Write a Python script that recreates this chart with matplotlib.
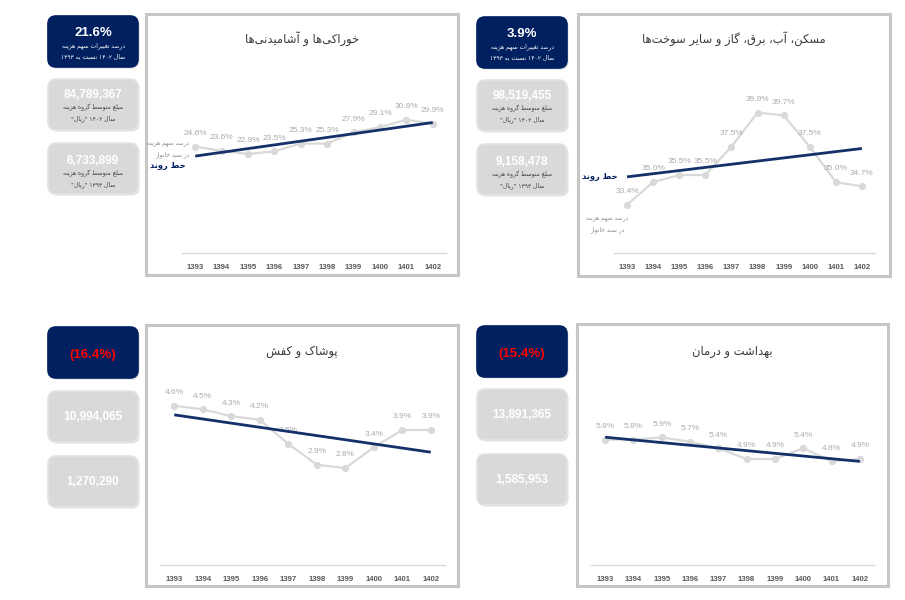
import re
import numpy as np
import matplotlib
matplotlib.use('Agg')
import matplotlib.pyplot as plt
from matplotlib.patches import FancyBboxPatch, Rectangle

plt.rcParams['font.family'] = ['Liberation Sans', 'DejaVu Sans']

# ---- data ----
years = ['1393', '1394', '1395', '1396', '1397', '1398', '1399', '1400', '1401', '1402']

food_share = [24.6, 23.6, 22.9, 23.5, 25.3, 25.3, 27.9, 29.1, 30.8, 29.9]
housing_share = [33.4, 35.0, 35.5, 35.5, 37.5, 39.9, 39.7, 37.5, 35.0, 34.7]
clothing_share = [4.6, 4.5, 4.3, 4.2, 3.5, 2.9, 2.8, 3.4, 3.9, 3.9]
health_share = [5.8, 5.8, 5.9, 5.7, 5.4, 4.9, 4.9, 5.4, 4.8, 4.9]

titles = ['خوراکی\u200cها و آشامیدنی\u200cها',
          'مسکن، آب، برق، گاز و سایر سوخت\u200cها',
          'پوشاک و کفش',
          'بهداشت و درمان']
share_change = ['21.6%', '3.9%', '(16.4%)', '(15.4%)']
amount_1402 = ['84,789,367', '98,519,455', '10,994,065', '13,891,365']
amount_1393 = ['6,733,899', '9,158,478', '1,270,290', '1,585,953']

change_note = 'درصد تغییرات سهم هزینه\nسال ۱۴۰۲ نسبت به ۱۳۹۳'
amount_note_1402 = 'مبلغ متوسط گروه هزینه\nسال ۱۴۰۲ "ریال"'
amount_note_1393 = 'مبلغ متوسط گروه هزینه\nسال ۱۳۹۳ "ریال"'
series_note = 'درصد سهم هزینه\nدر سبد خانوار'
trend_note = 'خط روند'

# ---- minimal Persian shaping (matplotlib has no bidi / joining) ----
DUAL = {'ب': 0xFE8F, 'ت': 0xFE95, 'ث': 0xFE99, 'ج': 0xFE9D, 'ح': 0xFEA1,
        'خ': 0xFEA5, 'س': 0xFEB1, 'ش': 0xFEB5, 'ص': 0xFEB9, 'ض': 0xFEBD,
        'ط': 0xFEC1, 'ظ': 0xFEC5, 'ع': 0xFEC9, 'غ': 0xFECD, 'ف': 0xFED1,
        'ق': 0xFED5, 'ل': 0xFEDD, 'م': 0xFEE1, 'ن': 0xFEE5, 'ه': 0xFEE9,
        'ی': 0xFBFC, 'ک': 0xFB8E, 'گ': 0xFB92, 'پ': 0xFB56, 'چ': 0xFB7A}
RIGHT = {'ا': 0xFE8D, 'آ': 0xFE81, 'د': 0xFEA9, 'ذ': 0xFEAB, 'ر': 0xFEAD,
         'ز': 0xFEAF, 'و': 0xFEED, 'ژ': 0xFB8A}
JOIN = {**{k: (v, True) for k, v in DUAL.items()},
        **{k: (v, False) for k, v in RIGHT.items()}}


def fa_line(s):
    out = []
    for i, c in enumerate(s):
        if c not in JOIN:
            out.append(c)
            continue
        prev = s[i - 1] if i > 0 else ''
        nxt = s[i + 1] if i + 1 < len(s) else ''
        base, dual = JOIN[c]
        a = prev in JOIN and JOIN[prev][1]
        b = dual and nxt in JOIN
        k = 3 if (a and b) else 1 if a else 2 if b else 0
        out.append(chr(base + k))
    vis = ''.join(out).replace('\u200c', '')[::-1]
    return re.sub(r'[0-9۰-۹.,%]+', lambda m: m.group(0)[::-1], vis)


def fa(s):
    return '\n'.join(fa_line(l) for l in s.split('\n'))


# ---- layout (pixels) ----
W, H = 905, 600
NAVY = '#002060'
TREND = '#14306b'
GREY_LINE = '#d9d9d9'
LABEL = '#ababab'

panels = [
    dict(data=food_share, ylim=(0, 40), cards_x=48, cards_y=[16, 79, 143],
         box=(146, 14, 458, 275), ax=(182, 80, 446, 253)),
    dict(data=housing_share, ylim=(30, 42.2), cards_x=477, cards_y=[17, 80, 144],
         box=(578, 14, 890, 276), ax=(614, 80, 875, 253)),
    dict(data=clothing_share, ylim=(0, 5), cards_x=48, cards_y=[327, 391, 456],
         box=(146, 325, 458, 586), ax=(160, 392, 445, 565)),
    dict(data=health_share, ylim=(0, 8), cards_x=477, cards_y=[326, 389, 454],
         box=(577, 324, 888, 586), ax=(591, 392, 874, 565)),
]

fig = plt.figure(figsize=(W / 100, H / 100), dpi=100)
bg = fig.add_axes([0, 0, 1, 1])
bg.set_xlim(0, W)
bg.set_ylim(H, 0)
bg.axis('off')


def card(x, y, w, h, face, edge):
    bg.add_patch(FancyBboxPatch((x + 1.5, y + 1.5), w, h, boxstyle='round,pad=0,rounding_size=8',
                                fc='#c8c8c8', ec='none', alpha=0.6))
    bg.add_patch(FancyBboxPatch((x, y), w, h, boxstyle='round,pad=0,rounding_size=8',
                                fc=face, ec=edge, lw=1.2))


x_idx = np.arange(len(years))

for n, p in enumerate(panels):
    # chart frame
    x0, y0, x1, y1 = p['box']
    bg.add_patch(Rectangle((x0 + 2, y0 + 2), x1 - x0, y1 - y0, fc='#d0d0d0', ec='none', alpha=0.5))
    bg.add_patch(Rectangle((x0, y0), x1 - x0, y1 - y0, fc='white', ec='#c6c6c6', lw=2.2))
    ty = y0 + 25 if n < 2 else y0 + 27
    bg.text((x0 + x1) / 2, ty, fa(titles[n]), ha='center', va='center',
            fontsize=8.3, color='#3a3a3a', family='DejaVu Sans')

    # side cards
    cx = p['cards_x']
    cw, ch = 90, 51
    cy = p['cards_y']
    card(cx, cy[0], cw, ch, NAVY, NAVY)
    card(cx, cy[1], cw, ch, '#d9d9d9', '#e4e4e4')
    card(cx, cy[2], cw, ch, '#d9d9d9', '#e4e4e4')
    mid = cx + cw / 2
    negative = share_change[n].startswith('(')
    if n < 2:
        bg.text(mid, cy[0] + 17, share_change[n], ha='center', va='center', fontsize=9.5,
                fontweight='bold', color='white')
        bg.text(mid, cy[0] + 35, fa(change_note), ha='center', va='center', fontsize=4.3,
                color='white', linespacing=2.0, family='DejaVu Sans')
        bg.text(mid, cy[1] + 16, amount_1402[n], ha='center', va='center', fontsize=8.5,
                fontweight='bold', color='white')
        bg.text(mid, cy[1] + 34, fa(amount_note_1402), ha='center', va='center', fontsize=4.3,
                color='#404040', linespacing=2.0, family='DejaVu Sans')
        bg.text(mid, cy[2] + 18, amount_1393[n], ha='center', va='center', fontsize=8.5,
                fontweight='bold', color='white')
        bg.text(mid, cy[2] + 36, fa(amount_note_1393), ha='center', va='center', fontsize=4.3,
                color='#404040', linespacing=2.0, family='DejaVu Sans')
    else:
        bg.text(mid, cy[0] + 28, share_change[n], ha='center', va='center', fontsize=9.5,
                fontweight='bold', color='#ff0000' if negative else 'white')
        bg.text(mid, cy[1] + 26, amount_1402[n], ha='center', va='center', fontsize=8.5,
                fontweight='bold', color='white')
        bg.text(mid, cy[2] + 26, amount_1393[n], ha='center', va='center', fontsize=8.5,
                fontweight='bold', color='white')

    # the line chart itself
    a0, b0, a1, b1 = p['ax']
    ax = fig.add_axes([a0 / W, 1 - b1 / H, (a1 - a0) / W, (b1 - b0) / H])
    ax.set_facecolor('none')
    vals = np.array(p['data'])
    ax.plot(x_idx, vals, color=GREY_LINE, lw=1.6, marker='o', ms=4.2,
            mfc=GREY_LINE, mec=GREY_LINE, zorder=2)
    slope, icpt = np.polyfit(x_idx, vals, 1)
    ax.plot(x_idx, slope * x_idx + icpt, color=TREND, lw=2.0, solid_capstyle='butt', zorder=3)
    for i, v in enumerate(vals):
        ax.annotate(f'{v:.1f}%', (i, v), xytext=(0, 9.5), textcoords='offset points',
                    ha='center', va='center', fontsize=6, color=LABEL, zorder=2.5)
    ax.set_xlim(-0.5, len(years) - 0.5)
    ax.set_ylim(*p['ylim'])
    ax.set_xticks(x_idx)
    ax.set_xticklabels(years, fontsize=5.6, fontweight='bold', color='#595959')
    ax.tick_params(axis='x', length=0, pad=8)
    ax.set_yticks([])
    for side in ['left', 'right', 'top']:
        ax.spines[side].set_visible(False)
    ax.spines['bottom'].set_color('#d9d9d9')
    ax.spines['bottom'].set_linewidth(1.0)

    if n == 0:
        ax.annotate(fa(series_note), (0, vals[0]), xytext=(-4, -2), textcoords='offset points',
                    ha='right', va='center', fontsize=4.3, color='#8c8c8c', linespacing=2.0,
                    family='DejaVu Sans', annotation_clip=False)
        ax.annotate(fa(trend_note), (0, icpt), xytext=(-7, -7), textcoords='offset points',
                    ha='right', va='center', fontsize=6, color=NAVY, fontweight='bold',
                    family='DejaVu Sans', annotation_clip=False)
    elif n == 1:
        ax.annotate(fa(series_note), (0, vals[0]), xytext=(-14, -14), textcoords='offset points',
                    ha='center', va='center', fontsize=4.3, color='#8c8c8c', linespacing=2.0,
                    family='DejaVu Sans', annotation_clip=False)
        ax.annotate(fa(trend_note), (0, icpt), xytext=(-7, 0), textcoords='offset points',
                    ha='right', va='center', fontsize=6, color=NAVY, fontweight='bold',
                    family='DejaVu Sans', annotation_clip=False)

fig.savefig('out.png', dpi=100)
